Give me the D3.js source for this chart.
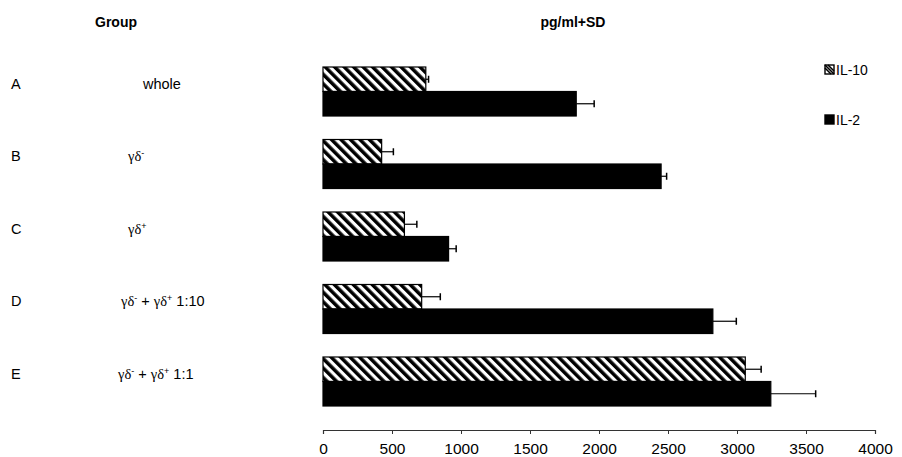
<!DOCTYPE html>
<html>
<head>
<meta charset="utf-8">
<script src="https://cdnjs.cloudflare.com/ajax/libs/d3/7.8.5/d3.min.js"></script>
<style>
  body { margin: 0; background: #fff; }
  text { font-family: "Liberation Sans", Arial, sans-serif; fill: #000; }
</style>
</head>
<body>
<script>
// data
var categories = ["A", "B", "C", "D", "E"];
var series = ["IL-10", "IL-2"];
var il10 = [745, 425, 590, 715, 3060];
var il10Sd = [20, 85, 90, 135, 115];
var il2 = [1835, 2450, 910, 2825, 3245];
var il2Sd = [130, 40, 55, 170, 325];
var xTicks = [0, 500, 1000, 1500, 2000, 2500, 3000, 3500, 4000];

// group labels: [gamma-delta part, superscript, ...]
var groupLabels = [
  [{t: "whole", f: "sans"}],
  [{t: "γδ", f: "serif"}, {t: "-", f: "sup"}],
  [{t: "γδ", f: "serif"}, {t: "+", f: "sup"}],
  [{t: "γδ", f: "serif"}, {t: "-", f: "sup"}, {t: " + ", f: "sans"}, {t: "γδ", f: "serif"}, {t: "+", f: "sup"}, {t: " 1:10", f: "sans"}],
  [{t: "γδ", f: "serif"}, {t: "-", f: "sup"}, {t: " + ", f: "sans"}, {t: "γδ", f: "serif"}, {t: "+", f: "sup"}, {t: " 1:1", f: "sans"}]
];
var labelX = [143, 128, 128, 121, 118];

var width = 902, height = 457;

var svg = d3.select("body").
append("svg").
attr("width", width).
attr("height", height);

// hatch pattern
var defs = svg.append("defs");
defs.append("pattern").
attr("id", "hatch").
attr("patternUnits", "userSpaceOnUse").
attr("width", 6.7).
attr("height", 6.7).
attr("patternTransform", "rotate(-45)").
append("rect").
attr("width", 3.5).
attr("height", 6.7).
attr("fill", "#000");

var xScale = d3.scaleLinear().
domain([0, 4000]).
range([323, 875]);

var yScale = d3.scaleBand().
domain(categories).
range([67, 406]).
paddingInner(0.324).
paddingOuter(0);

var ySub = d3.scaleBand().
domain(series).
range([0, yScale.bandwidth()]);

var rows = categories.map(function (c, i) {
  return [
    {cat: c, s: "IL-10", v: il10[i], sd: il10Sd[i]},
    {cat: c, s: "IL-2", v: il2[i], sd: il2Sd[i]}
  ];
}).flat();

// bars
svg.selectAll("rect.bar").
data(rows).
enter().append("rect").
attr("class", "bar").
attr("x", xScale(0)).
attr("y", d => yScale(d.cat) + ySub(d.s)).
attr("width", d => xScale(d.v) - xScale(0)).
attr("height", ySub.bandwidth()).
attr("fill", d => d.s == "IL-10" ? "url(#hatch)" : "#000").
attr("stroke", "#000").
attr("stroke-width", 1.2);

// error bars
var err = svg.selectAll("g.err").
data(rows).
enter().append("g").
attr("class", "err");

err.append("line").
attr("x1", d => xScale(d.v)).
attr("x2", d => xScale(d.v + d.sd)).
attr("y1", d => yScale(d.cat) + ySub(d.s) + ySub.bandwidth() / 2).
attr("y2", d => yScale(d.cat) + ySub(d.s) + ySub.bandwidth() / 2).
attr("stroke", "#000").
attr("stroke-width", 1.2);

err.append("line").
attr("x1", d => xScale(d.v + d.sd)).
attr("x2", d => xScale(d.v + d.sd)).
attr("y1", d => yScale(d.cat) + ySub(d.s) + ySub.bandwidth() / 2 - 3.5).
attr("y2", d => yScale(d.cat) + ySub(d.s) + ySub.bandwidth() / 2 + 3.5).
attr("stroke", "#000").
attr("stroke-width", 1.5);

// x axis
var xAxis = d3.axisBottom(xScale).
tickValues(xTicks).
tickSize(4).
tickFormat(d3.format("d"));

var gx = svg.append("g").
attr("transform", "translate(0,430)").
call(xAxis);
gx.select(".domain").attr("stroke", "#333").attr("stroke-width", 1.2);
gx.selectAll(".tick line").attr("stroke", "#333");
gx.selectAll(".tick text").
attr("y", 13).
attr("font-size", 15.5).
attr("font-family", "Liberation Sans, Arial, sans-serif");

// row letters
svg.selectAll("text.letter").
data(categories).
enter().append("text").
attr("class", "letter").
attr("x", 11).
attr("y", d => yScale(d) + 22).
attr("font-size", 14.5).
text(d => d);

// group names
var gl = svg.selectAll("text.group").
data(groupLabels).
enter().append("text").
attr("class", "group").
attr("x", (d, i) => labelX[i]).
attr("y", (d, i) => yScale(categories[i]) + 22).
attr("font-size", 14.5);

gl.each(function (parts) {
  var t = d3.select(this);
  parts.forEach(function (p) {
    var sp = t.append("tspan").text(p.t);
    if (p.f == "serif") {
      sp.attr("font-family", "Liberation Serif, Times New Roman, serif").attr("font-size", 14.5);
    } else if (p.f == "sup") {
      sp.attr("font-size", 9).attr("baseline-shift", "super").attr("font-family", "Liberation Sans, Arial, sans-serif");
    } else {
      sp.attr("font-family", "Liberation Sans, Arial, sans-serif");
    }
  });
});

// headers
svg.append("text").
attr("x", 95).
attr("y", 27).
attr("font-size", 14).
attr("font-weight", "bold").
text("Group");

svg.append("text").
attr("x", 573).
attr("y", 27).
attr("font-size", 14).
attr("font-weight", "bold").
style("text-anchor", "middle").
text("pg/ml+SD");

// legend
var legend = svg.selectAll("g.legend").
data(series).
enter().append("g").
attr("class", "legend").
attr("transform", (d, i) => "translate(825," + (65 + i * 50) + ")");

legend.append("rect").
attr("width", 9).
attr("height", 9).
attr("fill", d => d == "IL-10" ? "#fff" : "#000").
attr("stroke", "#000").
attr("stroke-width", 1.4);

legend.filter(d => d == "IL-10").
append("path").
attr("d", "M0,0 L9,9 M0,3 L6,9 M3,0 L9,6").
attr("stroke", "#000").
attr("stroke-width", 1.6);

legend.append("text").
attr("x", 11).
attr("y", 9.5).
attr("font-size", 14).
text(d => d);
</script>
</body>
</html>
